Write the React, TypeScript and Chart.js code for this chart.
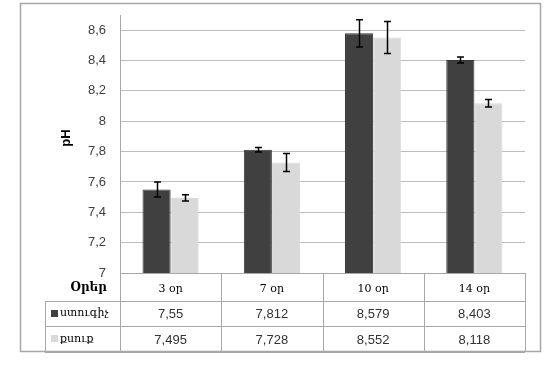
import React, { useEffect, useRef } from 'react';
import { Chart, registerables } from 'chart.js';

Chart.register(...registerables);

const categories = ['3 օր', '7 օր', '10 օր', '14 օր'];
const seriesNames = ['ստուգիչ', 'քսուք'];
const controlValues = [7.55, 7.812, 8.579, 8.403];
const ointmentValues = [7.495, 7.728, 8.552, 8.118];
const controlErrors = [0.05, 0.015, 0.09, 0.02];
const ointmentErrors = [0.02, 0.06, 0.105, 0.025];
const tableHeader = 'Օրեր';
const yTitle = 'pH';
const yMin = 7;
const yMax = 8.7;
const yStep = 0.2;

const seriesColors = ['#404040', '#d9d9d9'];
const errorsBySeries = [controlErrors, ointmentErrors];
const valuesBySeries = [controlValues, ointmentValues];

const fmt = (v: number) => String(v).replace('.', ',');

const extrasPlugin = {
  id: 'extras',
  afterDatasetsDraw(chart: any) {
    const ctx = chart.ctx;
    const y = chart.scales.y;
    ctx.save();
    ctx.strokeStyle = '#000';
    ctx.lineWidth = 1.5;
    chart.data.datasets.forEach((ds: any, di: number) => {
      const meta = chart.getDatasetMeta(di);
      meta.data.forEach((bar: any, i: number) => {
        const v = ds.data[i];
        const e = errorsBySeries[di][i];
        const x = Math.round(bar.x) + 0.5;
        const yt = y.getPixelForValue(v + e);
        const yb = y.getPixelForValue(v - e);
        ctx.beginPath();
        ctx.moveTo(x, yt);
        ctx.lineTo(x, yb);
        ctx.moveTo(x - 3.5, yt);
        ctx.lineTo(x + 3.5, yt);
        ctx.moveTo(x - 3.5, yb);
        ctx.lineTo(x + 3.5, yb);
        ctx.stroke();
      });
    });
    ctx.restore();
  },
  afterDraw(chart: any) {
    const ctx = chart.ctx;
    const area = chart.chartArea;
    const xs = chart.scales.x;
    const n = categories.length;
    const colW = (area.right - area.left) / n;
    const top = area.bottom;
    const r1 = top + 28;
    const r2 = r1 + 25;
    const r3 = r2 + 26;
    const tableLeft = 45;
    ctx.save();
    // frame
    ctx.strokeStyle = '#a6a6a6';
    ctx.lineWidth = 1.5;
    ctx.strokeRect(20.5, 3.5, 520, 348);
    // table lines
    ctx.strokeStyle = '#a8a8a8';
    ctx.lineWidth = 1;
    ctx.beginPath();
    [r1, r2, r3].forEach((yy) => {
      ctx.moveTo(tableLeft, Math.round(yy) + 0.5);
      ctx.lineTo(area.right, Math.round(yy) + 0.5);
    });
    ctx.moveTo(tableLeft + 0.5, r1);
    ctx.lineTo(tableLeft + 0.5, r3);
    for (let i = 0; i <= n; i++) {
      const xx = Math.round(area.left + i * colW) + 0.5;
      ctx.moveTo(xx, top);
      ctx.lineTo(xx, r3);
    }
    ctx.stroke();
    // header
    ctx.fillStyle = '#000';
    ctx.textBaseline = 'middle';
    ctx.textAlign = 'right';
    ctx.font = 'bold 12px "DejaVu Serif"';
    ctx.fillText(tableHeader, 107, top + 15);
    ctx.textAlign = 'center';
    ctx.font = '11px "DejaVu Serif"';
    categories.forEach((c, i) => {
      ctx.fillText(c, xs.getPixelForValue(i), top + 16);
    });
    // rows
    valuesBySeries.forEach((vals, si) => {
      const ya = si === 0 ? r1 : r2;
      const yb = si === 0 ? r2 : r3;
      const cy = (ya + yb) / 2;
      ctx.fillStyle = seriesColors[si];
      ctx.fillRect(51, Math.round(cy) - 4, 7, 7);
      ctx.fillStyle = '#000';
      ctx.textAlign = 'left';
      ctx.font = '11px "DejaVu Serif"';
      ctx.fillText(seriesNames[si], 60, cy);
      ctx.textAlign = 'center';
      ctx.font = '13px "Liberation Sans"';
      ctx.fillStyle = '#333';
      vals.forEach((v, i) => {
        ctx.fillText(fmt(v), xs.getPixelForValue(i), cy + 1);
      });
    });
    // y title
    ctx.save();
    ctx.translate(66, 138);
    ctx.rotate(-Math.PI / 2);
    ctx.textAlign = 'center';
    ctx.fillStyle = '#000';
    ctx.font = 'bold 13px "Liberation Sans"';
    ctx.fillText(yTitle, 0, 0);
    ctx.restore();
    ctx.restore();
  },
};

export default function App() {
  const ref = useRef<HTMLCanvasElement>(null);
  useEffect(() => {
    if (!ref.current) return;
    const chart = new Chart(ref.current, {
      type: 'bar',
      data: {
        labels: categories,
        datasets: valuesBySeries.map((vals, i) => ({
          label: seriesNames[i],
          data: vals,
          backgroundColor: seriesColors[i],
          borderColor: i === 0 ? '#353535' : '#d9d9d9',
          borderWidth: 1,
          categoryPercentage: 0.555,
          barPercentage: 1,
        })),
      },
      options: {
        responsive: false,
        animation: false,
        layout: { padding: { top: 15, right: 35, bottom: 92, left: 0 } },
        plugins: { legend: { display: false }, tooltip: { enabled: false } },
        scales: {
          x: {
            ticks: { display: false },
            grid: { display: false, drawTicks: false },
            border: { display: true, color: '#a8a8a8' },
            afterFit: (s: any) => { s.height = 0; s.paddingLeft = 0; s.paddingRight = 0; },
          },
          y: {
            min: yMin,
            max: yMax,
            ticks: {
              stepSize: yStep,
              padding: 14,
              color: '#404040',
              font: { family: 'Liberation Sans', size: 13 },
              callback: (v: any) => fmt(Math.round(Number(v) * 10) / 10),
            },
            afterBuildTicks: (s: any) => {
              s.ticks = s.ticks.filter((t: any) => Math.abs(t.value / yStep - Math.round(t.value / yStep)) < 1e-6);
            },
            afterFit: (s: any) => { s.width = 120; s.paddingTop = 0; s.paddingBottom = 0; },
            grid: { color: '#bdbdbd', drawTicks: false },
            border: { display: true, color: '#a8a8a8' },
          },
        },
      },
      plugins: [extrasPlugin],
    });
    return () => chart.destroy();
  }, []);
  return (
    <div style={{ position: 'absolute', left: 0, top: 0, width: 560, height: 365, background: '#fff' }}>
      <canvas ref={ref} width={560} height={365} />
    </div>
  );
}
